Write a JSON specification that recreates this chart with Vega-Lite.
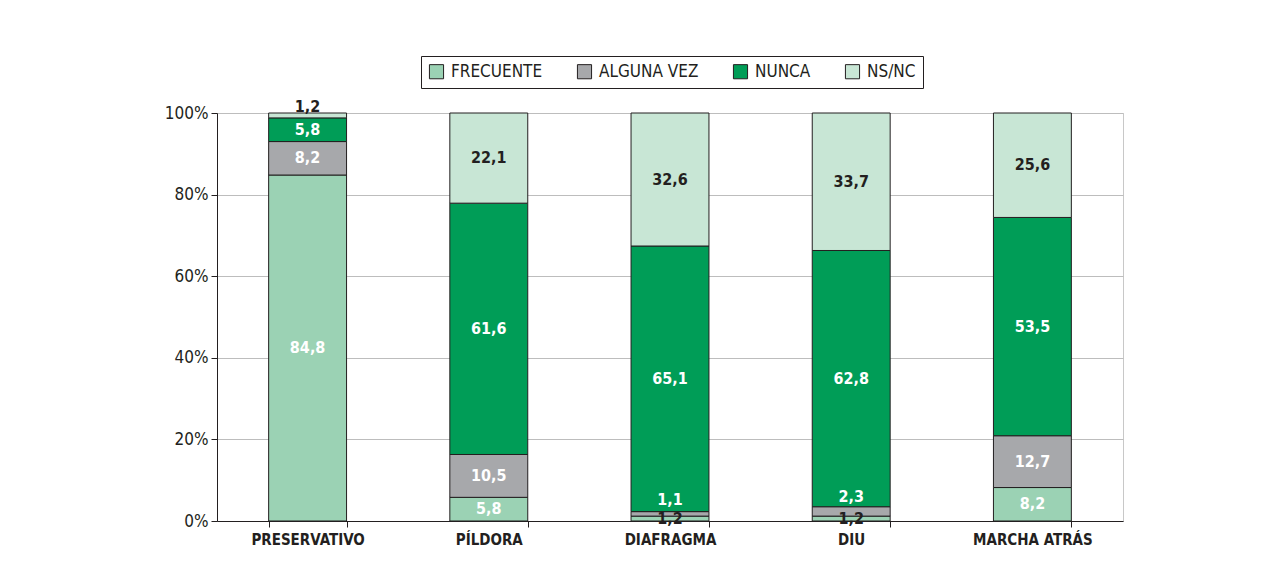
{
  "$schema": "https://vega.github.io/schema/vega-lite/v6.json",
  "width": 906,
  "height": 408,
  "autosize": {"type": "none"},
  "padding": {"left": 217, "top": 113, "right": 143, "bottom": 67},
  "background": "white",
  "config": {
    "font": "DejaVu Sans Condensed",
    "locale": {"number": {"decimal": ",", "thousands": ".", "grouping": [3], "currency": ["", " €"]}},
    "view": {"stroke": "#c8c8c8", "strokeWidth": 1}
  },
  "data": {
    "values": [
      {"metodo": "PRESERVATIVO", "tipo": "FRECUENTE", "orden": 1, "valor": 84.8},
      {"metodo": "PRESERVATIVO", "tipo": "ALGUNA VEZ", "orden": 2, "valor": 8.2},
      {"metodo": "PRESERVATIVO", "tipo": "NUNCA", "orden": 3, "valor": 5.8},
      {"metodo": "PRESERVATIVO", "tipo": "NS/NC", "orden": 4, "valor": 1.2},
      {"metodo": "PÍLDORA", "tipo": "FRECUENTE", "orden": 1, "valor": 5.8},
      {"metodo": "PÍLDORA", "tipo": "ALGUNA VEZ", "orden": 2, "valor": 10.5},
      {"metodo": "PÍLDORA", "tipo": "NUNCA", "orden": 3, "valor": 61.6},
      {"metodo": "PÍLDORA", "tipo": "NS/NC", "orden": 4, "valor": 22.1},
      {"metodo": "DIAFRAGMA", "tipo": "FRECUENTE", "orden": 1, "valor": 1.2},
      {"metodo": "DIAFRAGMA", "tipo": "ALGUNA VEZ", "orden": 2, "valor": 1.1},
      {"metodo": "DIAFRAGMA", "tipo": "NUNCA", "orden": 3, "valor": 65.1},
      {"metodo": "DIAFRAGMA", "tipo": "NS/NC", "orden": 4, "valor": 32.6},
      {"metodo": "DIU", "tipo": "FRECUENTE", "orden": 1, "valor": 1.2},
      {"metodo": "DIU", "tipo": "ALGUNA VEZ", "orden": 2, "valor": 2.3},
      {"metodo": "DIU", "tipo": "NUNCA", "orden": 3, "valor": 62.8},
      {"metodo": "DIU", "tipo": "NS/NC", "orden": 4, "valor": 33.7},
      {"metodo": "MARCHA ATRÁS", "tipo": "FRECUENTE", "orden": 1, "valor": 8.2},
      {"metodo": "MARCHA ATRÁS", "tipo": "ALGUNA VEZ", "orden": 2, "valor": 12.7},
      {"metodo": "MARCHA ATRÁS", "tipo": "NUNCA", "orden": 3, "valor": 53.5},
      {"metodo": "MARCHA ATRÁS", "tipo": "NS/NC", "orden": 4, "valor": 25.6}
    ]
  },
  "transform": [
    {"stack": "valor", "groupby": ["metodo"], "sort": [{"field": "orden", "order": "ascending"}], "as": ["v0", "v1"]},
    {"calculate": "(datum.v0 + datum.v1) / 2", "as": "mid"}
  ],
  "encoding": {
    "x": {
      "field": "metodo", "type": "nominal",
      "sort": ["PRESERVATIVO", "PÍLDORA", "DIAFRAGMA", "DIU", "MARCHA ATRÁS"],
      "scale": {"paddingInner": 0.57, "paddingOuter": 0.285},
      "axis": {
        "title": null, "labelAngle": 0, "tickBand": "extent",
        "domainColor": "#231f20", "tickColor": "#231f20", "tickSize": 6,
        "labelFont": "DejaVu Sans Condensed",
        "labelFontSize": 15, "labelFontWeight": "bold", "labelColor": "#231f20",
        "labelPadding": 5, "grid": false
      }
    }
  },
  "layer": [
    {
      "mark": {"type": "bar", "stroke": "#231f20", "strokeWidth": 1},
      "encoding": {
        "y": {
          "field": "v0", "type": "quantitative",
          "scale": {"domain": [0, 100]},
          "axis": {
            "title": null, "values": [0, 20, 40, 60, 80, 100],
            "labelExpr": "datum.value + '%'",
            "domainColor": "#231f20", "tickColor": "#231f20", "tickSize": 6,
            "gridColor": "#bdbdbd", "labelFont": "DejaVu Sans Condensed",
            "labelFontSize": 17, "labelColor": "#231f20",
            "labelPadding": 3
          }
        },
        "y2": {"field": "v1"},
        "color": {
          "field": "tipo", "type": "nominal",
          "scale": {
            "domain": ["FRECUENTE", "ALGUNA VEZ", "NUNCA", "NS/NC"],
            "range": ["#9bd2b4", "#a7a8ab", "#009d57", "#c8e6d5"]
          },
          "legend": {
            "title": null, "orient": "none", "legendX": 204, "legendY": -57,
            "direction": "horizontal", "symbolType": "square", "symbolSize": 200,
            "symbolStrokeColor": "#231f20", "symbolStrokeWidth": 1,
            "labelFont": "DejaVu Sans Condensed",
            "labelFontSize": 17, "labelColor": "#231f20", "columnPadding": 32,
            "strokeColor": "#231f20", "padding": 7, "labelOffset": 6
          }
        }
      }
    },
    {
      "transform": [{"filter": "!((datum.metodo == 'DIAFRAGMA' || datum.metodo == 'DIU') && datum.tipo == 'ALGUNA VEZ') && !(datum.metodo == 'PRESERVATIVO' && datum.tipo == 'NS/NC')"}],
      "mark": {"type": "text", "font": "DejaVu Sans Condensed", "fontSize": 16, "fontWeight": "bold", "baseline": "middle"},
      "encoding": {
        "y": {"field": "mid", "type": "quantitative"},
        "text": {"field": "valor", "type": "quantitative", "format": ".1f"},
        "color": {
          "condition": {"test": "datum.tipo == 'NS/NC' || (datum.tipo == 'FRECUENTE' && datum.valor < 2)", "value": "#231f20"},
          "value": "white"
        }
      }
    },
    {
      "transform": [{"filter": "(datum.metodo == 'DIAFRAGMA' || datum.metodo == 'DIU') && datum.tipo == 'ALGUNA VEZ'"}],
      "mark": {"type": "text", "font": "DejaVu Sans Condensed", "fontSize": 16, "fontWeight": "bold", "baseline": "middle", "dy": -14, "color": "white"},
      "encoding": {
        "y": {"field": "mid", "type": "quantitative"},
        "text": {"field": "valor", "type": "quantitative", "format": ".1f"}
      }
    },
    {
      "transform": [{"filter": "datum.metodo == 'PRESERVATIVO' && datum.tipo == 'NS/NC'"}],
      "mark": {"type": "text", "font": "DejaVu Sans Condensed", "fontSize": 16, "fontWeight": "bold", "baseline": "middle", "dy": -8, "color": "#231f20"},
      "encoding": {
        "y": {"field": "mid", "type": "quantitative"},
        "text": {"field": "valor", "type": "quantitative", "format": ".1f"}
      }
    }
  ]
}
